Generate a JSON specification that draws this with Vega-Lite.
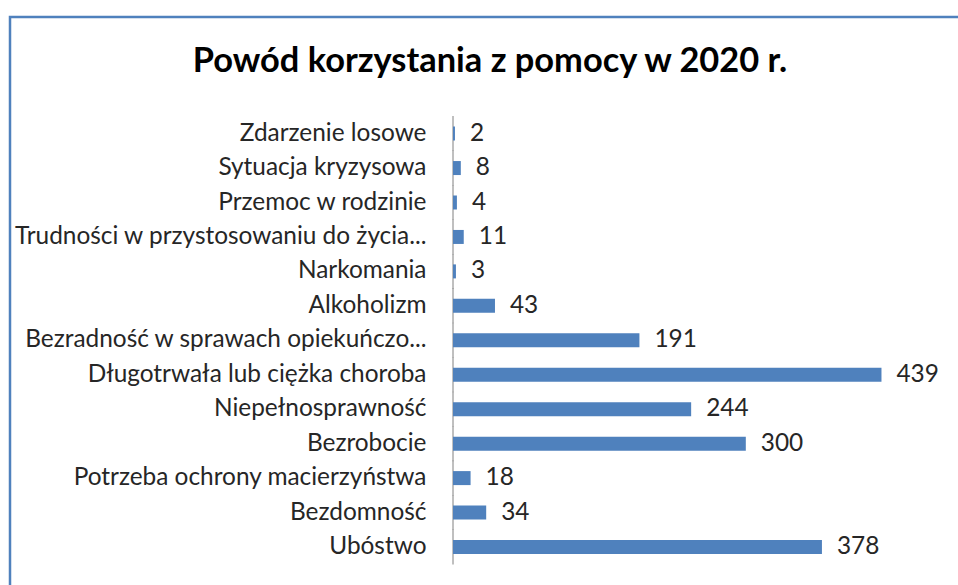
{
  "$schema": "https://vega.github.io/schema/vega-lite/v6.json",
  "width": 960,
  "height": 600,
  "autosize": {"type": "none"},
  "padding": {"left": 10, "top": 17, "right": 0, "bottom": 0},
  "background": "white",
  "config": {"view": {"stroke": "#4F81BD", "strokeWidth": 2.5}, "font": "Lato"},
  "title": {
    "text": "Powód korzystania z pomocy w 2020 r.",
    "font": "Lato",
    "fontSize": 34.4,
    "fontWeight": "bold",
    "color": "#000000",
    "anchor": "middle",
    "frame": "group",
    "baseline": "alphabetic",
    "offset": -89
  },
  "data": {
    "values": [
      {"cat": "Zdarzenie losowe", "value": 2},
      {"cat": "Sytuacja kryzysowa", "value": 8},
      {"cat": "Przemoc w rodzinie", "value": 4},
      {"cat": "Trudności w przystosowaniu do życia...", "value": 11},
      {"cat": "Narkomania", "value": 3},
      {"cat": "Alkoholizm", "value": 43},
      {"cat": "Bezradność w sprawach opiekuńczo...", "value": 191},
      {"cat": "Długotrwała lub ciężka choroba", "value": 439},
      {"cat": "Niepełnosprawność", "value": 244},
      {"cat": "Bezrobocie", "value": 300},
      {"cat": "Potrzeba ochrony macierzyństwa", "value": 18},
      {"cat": "Bezdomność", "value": 34},
      {"cat": "Ubóstwo", "value": 378}
    ]
  },
  "encoding": {
    "y": {
      "field": "cat",
      "type": "nominal",
      "sort": null,
      "scale": {"paddingInner": 0.5936, "paddingOuter": 0, "range": [109.6, 537.0]},
      "axis": {
        "orient": "left",
        "offset": -443,
        "domain": false,
        "ticks": false,
        "tickSize": 0,
        "grid": false,
        "labelPadding": 27,
        "labelFont": "Lato",
        "labelFontSize": 24.4,
        "labelColor": "#262626",
        "labelLimit": 500,
        "title": null
      }
    },
    "x": {
      "field": "value",
      "type": "quantitative",
      "scale": {"domain": [-453.9, 529.7], "nice": false},
      "axis": null
    }
  },
  "layer": [
    {
      "mark": {"type": "tick", "color": "#868686", "thickness": 1.5, "size": 35},
      "encoding": {"x": {"datum": 0, "type": "quantitative", "axis": null}}
    },
    {
      "mark": {"type": "bar", "color": "#4F81BD"}
    },
    {
      "mark": {"type": "text", "align": "left", "baseline": "middle", "dx": 15, "fontSize": 24.4, "font": "Lato", "color": "#262626"},
      "encoding": {
        "text": {"field": "value", "type": "quantitative"}
      }
    }
  ]
}
